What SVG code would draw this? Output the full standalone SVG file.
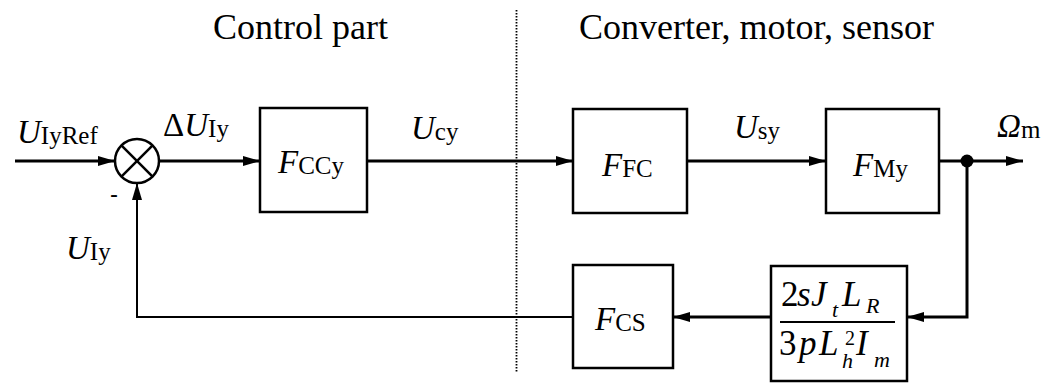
<svg xmlns="http://www.w3.org/2000/svg" width="1059" height="383" viewBox="0 0 1059 383">
<style>
text{font-family:"Liberation Serif","Times New Roman",serif;fill:#000}
.title{font-size:36px}
.lbl{font-size:33px}
.i{font-style:italic}
.sub{font-size:25px}
.fr{font-size:35px}
.frs{font-size:22px;font-style:italic}
.sup{font-size:20px;font-style:normal}
.box{fill:#fff;stroke:#000;stroke-width:2.5}
.ln{fill:none;stroke:#000;stroke-width:3}
.thin{fill:none;stroke:#000;stroke-width:2}
</style>
<defs>
<marker id="ah" markerUnits="userSpaceOnUse" markerWidth="18" markerHeight="10" refX="17" refY="5" orient="auto">
<path d="M0,0 L17,5 L0,10 z" fill="#000"/>
</marker>
</defs>
<rect width="1059" height="383" fill="#fff"/>
<g id="titles">
<text class="title" x="213" y="39">Control part</text>
<text class="title" x="579" y="39">Converter, motor, sensor</text>
<line x1="516.5" y1="10" x2="516.5" y2="372" stroke="#000" stroke-width="1.8" stroke-dasharray="1.5 1.5"/>
</g>
<g id="connectors">
<line class="ln" x1="15" y1="161" x2="115" y2="161" marker-end="url(#ah)"/>
<line class="ln" x1="159" y1="161" x2="260" y2="161" marker-end="url(#ah)"/>
<line class="ln" x1="367" y1="161" x2="573" y2="161" marker-end="url(#ah)"/>
<line class="ln" x1="687" y1="161" x2="826" y2="161" marker-end="url(#ah)"/>
<line class="ln" x1="939" y1="161" x2="1023" y2="161" marker-end="url(#ah)"/>
<polyline class="ln" points="967,161 967,317 907,317" marker-end="url(#ah)"/>
<line class="ln" x1="771" y1="317" x2="673" y2="317" marker-end="url(#ah)"/>
<polyline class="thin" points="573,317 137,317 137,183" marker-end="url(#ah)"/>
<circle cx="967" cy="161" r="6.5" fill="#000"/>
</g>
<g id="sum">
<circle cx="137" cy="161" r="22" fill="#fff" stroke="#000" stroke-width="2.5"/>
<line x1="121.4" y1="145.4" x2="152.6" y2="176.6" stroke="#000" stroke-width="2.5"/>
<line x1="152.6" y1="145.4" x2="121.4" y2="176.6" stroke="#000" stroke-width="2.5"/>
</g>
<g id="labels">
<text class="lbl" x="17" y="143"><tspan class="i">U</tspan><tspan class="sub" dy="1">IyRef</tspan></text>
<text class="lbl" x="163" y="136">Δ<tspan class="i">U</tspan><tspan class="sub" dy="1">Iy</tspan></text>
<text x="110" y="202" style="font-family:'Liberation Sans',sans-serif;font-size:24px">-</text>
<text class="lbl" x="66" y="259"><tspan class="i">U</tspan><tspan class="sub" dy="1">Iy</tspan></text>
<text class="lbl" x="411" y="139"><tspan class="i">U</tspan><tspan class="sub" dy="1">cy</tspan></text>
<text class="lbl" x="734" y="138"><tspan class="i">U</tspan><tspan class="sub" dy="1">sy</tspan></text>
<text class="lbl" x="997" y="137"><tspan class="i">Ω</tspan><tspan class="sub" dy="1">m</tspan></text>
</g>
<g id="FCCy">
<rect class="box" x="260" y="108" width="107" height="104"/>
<text class="lbl" x="278" y="173"><tspan class="i">F</tspan><tspan class="sub" dy="1">CCy</tspan></text>
</g>
<g id="FFC">
<rect class="box" x="573" y="109" width="114" height="104"/>
<text class="lbl" x="602" y="176"><tspan class="i">F</tspan><tspan class="sub" dy="1">FC</tspan></text>
</g>
<g id="FMy">
<rect class="box" x="826" y="109" width="113" height="104"/>
<text class="lbl" x="853" y="176"><tspan class="i">F</tspan><tspan class="sub" dy="1">My</tspan></text>
</g>
<g id="FCS">
<rect class="box" x="573" y="265" width="100" height="103"/>
<text class="lbl" x="595" y="330"><tspan class="i">F</tspan><tspan class="sub" dy="1">CS</tspan></text>
</g>
<g id="gain">
<rect class="box" x="771" y="266" width="136" height="115"/>
<line x1="780" y1="322" x2="895" y2="322" stroke="#000" stroke-width="1.8"/>
<text class="fr" y="306"><tspan x="781">2</tspan><tspan class="i" x="797">s</tspan><tspan class="i" x="811">J</tspan><tspan class="frs" x="832" y="317">t</tspan><tspan class="i" x="842" y="306">L</tspan><tspan class="frs" x="866" y="313">R</tspan></text>
<text class="fr" y="355"><tspan x="779">3</tspan><tspan class="i" x="799">p</tspan><tspan class="i" x="819">L</tspan><tspan class="sup" x="845" y="345">2</tspan><tspan class="frs" x="842" y="368">h</tspan><tspan class="i" x="856" y="355">I</tspan><tspan class="frs" x="874" y="367">m</tspan></text>
</g>
</svg>
